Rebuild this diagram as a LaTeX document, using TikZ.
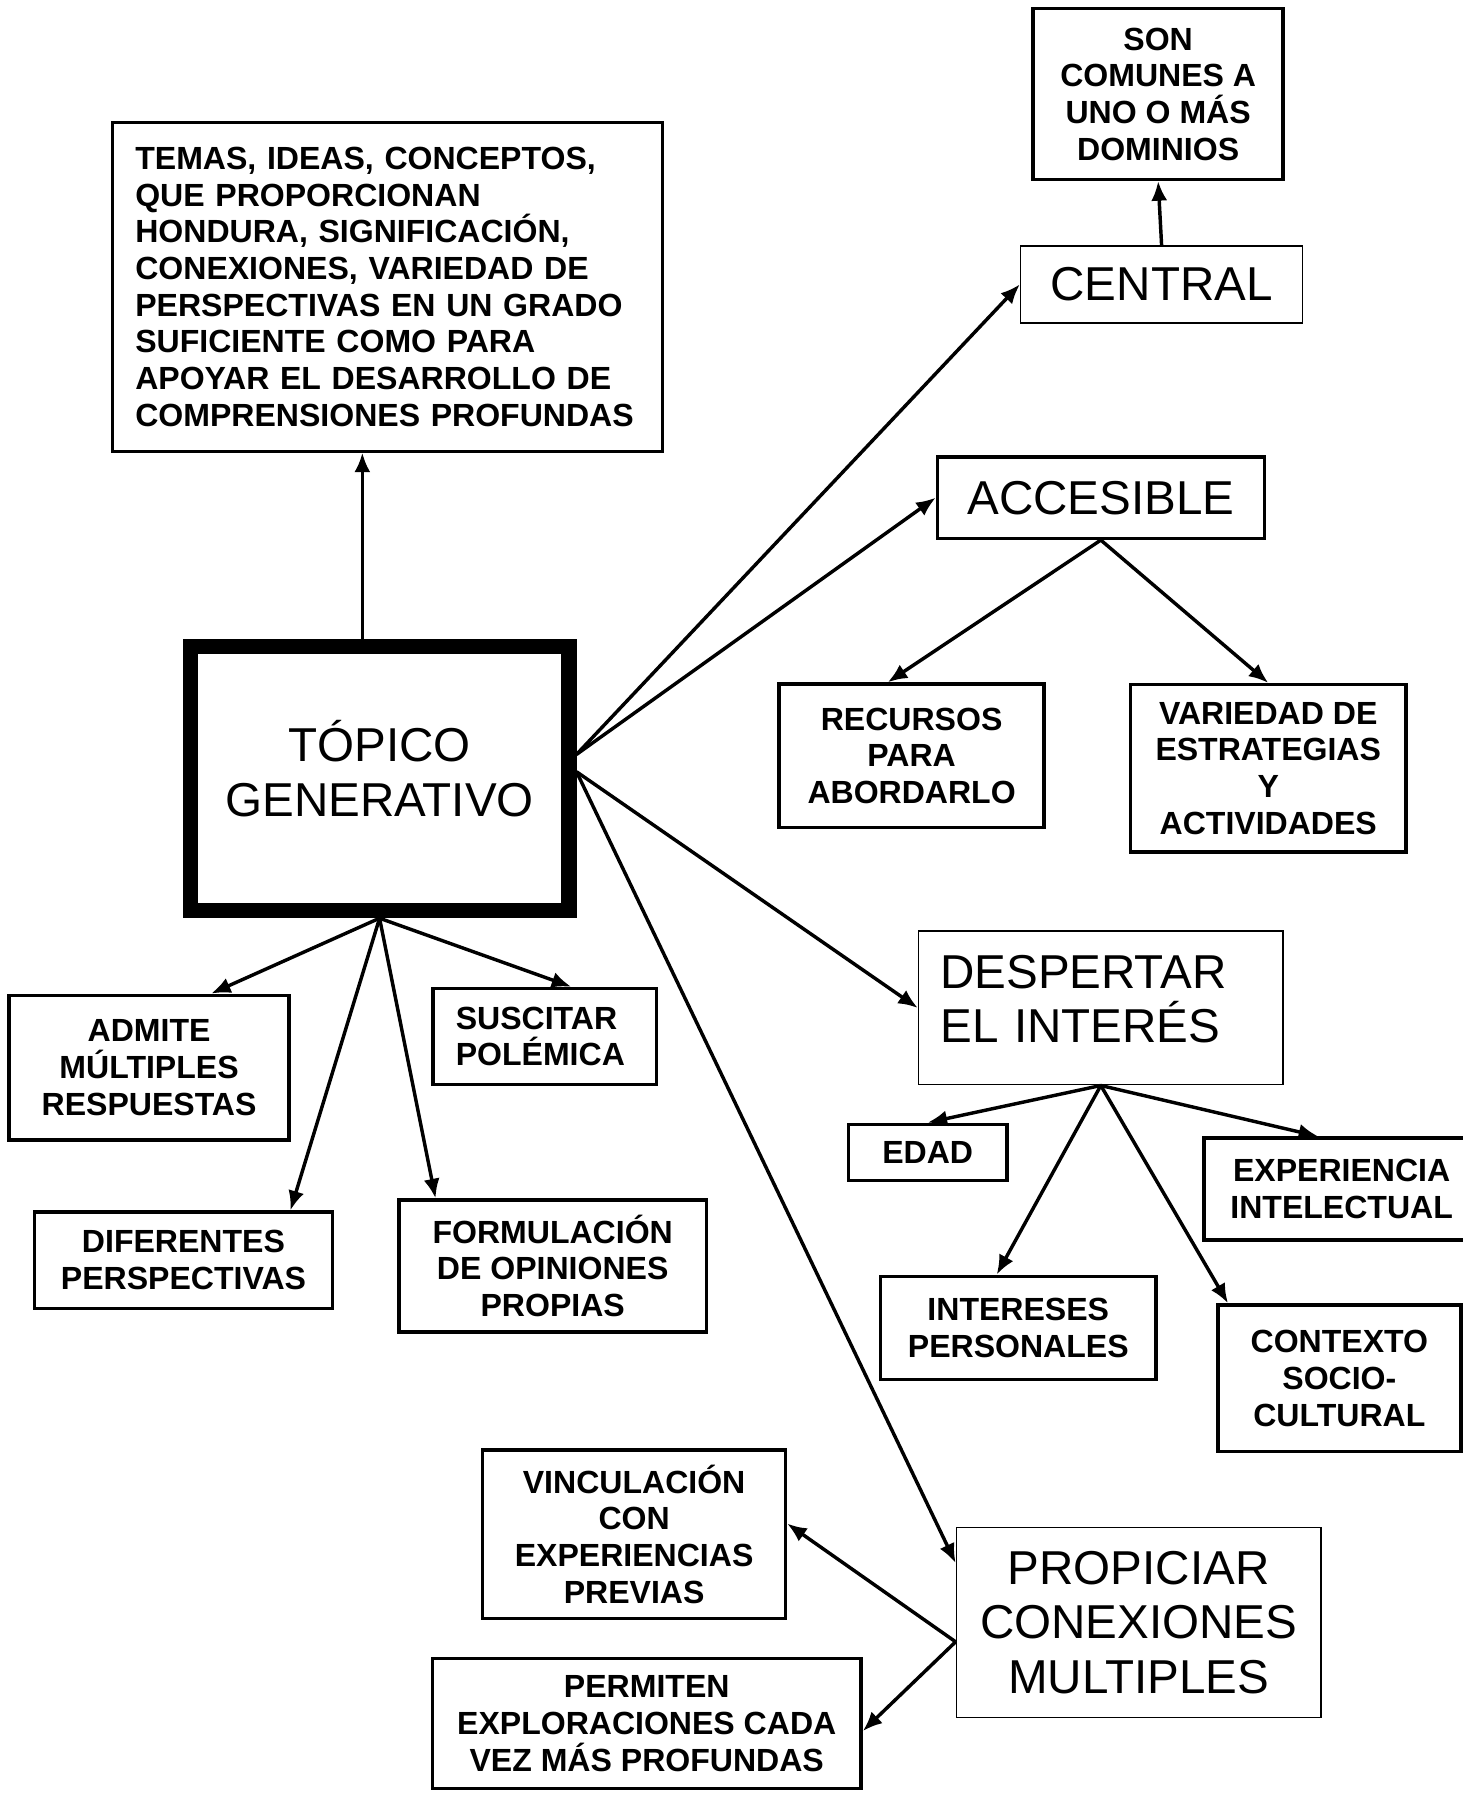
\documentclass[tikz,border=0pt]{standalone}
\usepackage{fontspec}
\setmainfont{Liberation Sans}
\usetikzlibrary{arrows.meta}
\tikzstyle{boldbox}=[draw,line width=0.6mm,align=center,inner sep=0pt,font=\bfseries\fontsize{15.9}{18.2}\selectfont]
\tikzstyle{thinbox}=[draw,line width=0.25mm,align=center,inner sep=0pt,font=\fontsize{23.6}{27}\selectfont]
\tikzstyle{arr}=[line width=0.6mm,-{Latex[length=3.4mm,width=2.8mm]}]

\begin{document}
\begin{tikzpicture}[x=0.2mm,y=-0.2mm]
    \useasboundingbox (0,0) rectangle (1275,1568);
    % centre
    \node[draw,line width=2.7mm,align=center,inner sep=0pt,minimum width=330*0.2mm,minimum height=230*0.2mm,
          text depth=3.6mm,font=\fontsize{23.6}{27}\selectfont] (topico) at (331,679) {T\'OPICO\\GENERATIVO};
    \node[boldbox,line width=0.5mm,align=left,text width=440*0.2mm,minimum width=480*0.2mm,minimum height=287*0.2mm] (temas) at (338,250)
        {TEMAS, IDEAS, CONCEPTOS,\\QUE PROPORCIONAN\\HONDURA, SIGNIFICACI\'ON,\\CONEXIONES, VARIEDAD DE\\PERSPECTIVAS EN UN GRADO\\SUFICIENTE COMO PARA\\APOYAR EL DESARROLLO DE\\COMPRENSIONES PROFUNDAS};
    % right side
    \node[boldbox,minimum width=218*0.2mm,minimum height=149*0.2mm] (son) at (1010,82) {SON\\COMUNES A\\UNO O M\'AS\\DOMINIOS};
    \node[thinbox,minimum width=246*0.2mm,minimum height=67*0.2mm] (central) at (1013,248) {CENTRAL};
    \node[thinbox,line width=0.6mm,minimum width=285*0.2mm,minimum height=71*0.2mm] (acc) at (960,434) {ACCESIBLE};
    \node[boldbox,minimum width=231*0.2mm,minimum height=125*0.2mm] (recursos) at (795,659) {RECURSOS\\PARA\\ABORDARLO};
    \node[boldbox,minimum width=240*0.2mm,minimum height=146*0.2mm] (variedad) at (1106,670) {VARIEDAD DE\\ESTRATEGIAS\\Y\\ACTIVIDADES};
    \node[thinbox,align=left,text width=280*0.2mm,inner xsep=19*0.2mm,minimum height=134*0.2mm,
          text depth=12.6mm] (despertar) at (960,879) {DESPERTAR\\EL INTER\'ES};
    \node[boldbox,minimum width=138*0.2mm,minimum height=49*0.2mm] (edad) at (809,1005) {EDAD};
    \node[boldbox,minimum width=240*0.2mm,minimum height=89*0.2mm] (experiencia) at (1170,1037) {EXPERIENCIA\\INTELECTUAL};
    \node[boldbox,minimum width=240*0.2mm,minimum height=90*0.2mm] (intereses) at (888,1158) {INTERESES\\PERSONALES};
    \node[boldbox,minimum width=212*0.2mm,minimum height=128*0.2mm] (contexto) at (1168,1202) {CONTEXTO\\SOCIO-\\CULTURAL};
    \node[thinbox,minimum width=318*0.2mm,minimum height=166*0.2mm] (propiciar) at (993,1415) {PROPICIAR\\CONEXIONES\\MULTIPLES};
    % left side
    \node[boldbox,minimum width=244*0.2mm,minimum height=126*0.2mm] (admite) at (130,931) {ADMITE\\M\'ULTIPLES\\RESPUESTAS};
    \node[boldbox,align=left,text width=155*0.2mm,inner xsep=20*0.2mm,minimum height=84*0.2mm] (suscitar) at (475,904) {SUSCITAR\\POL\'EMICA};
    \node[boldbox,minimum width=260*0.2mm,minimum height=84*0.2mm] (diferentes) at (160,1099) {DIFERENTES\\PERSPECTIVAS};
    \node[boldbox,minimum width=268*0.2mm,minimum height=115*0.2mm] (formulacion) at (482,1104) {FORMULACI\'ON\\DE OPINIONES\\PROPIAS};
    \node[boldbox,minimum width=264*0.2mm,minimum height=147*0.2mm] (vinculacion) at (553,1338) {VINCULACI\'ON\\CON\\EXPERIENCIAS\\PREVIAS};
    \node[boldbox,minimum width=374*0.2mm,minimum height=113*0.2mm] (permiten) at (564,1503) {PERMITEN\\EXPLORACIONES CADA\\VEZ M\'AS PROFUNDAS};

    \draw[arr] ([xshift=-3mm]topico.north) -- ([xshift=-3mm]topico.north |- temas.south);
    \foreach \from/\to in {central.north/son.south,topico.7/central.west,topico.7/acc.west,topico.2/despertar.west,
        topico.2/propiciar.162,acc.south/recursos.108,acc.south/variedad.north,
        topico.south/admite.50,topico.south/suscitar.62,topico.south/diferentes.25,topico.south/formulacion.150,
        despertar.south/edad.north,despertar.south/intereses.112,despertar.south/contexto.146,despertar.south/experiencia.114,
        propiciar.186/vinculacion.4,propiciar.186/permiten.358}
    \draw[arr] (\from) -- (\to);
\end{tikzpicture}
\end{document}
